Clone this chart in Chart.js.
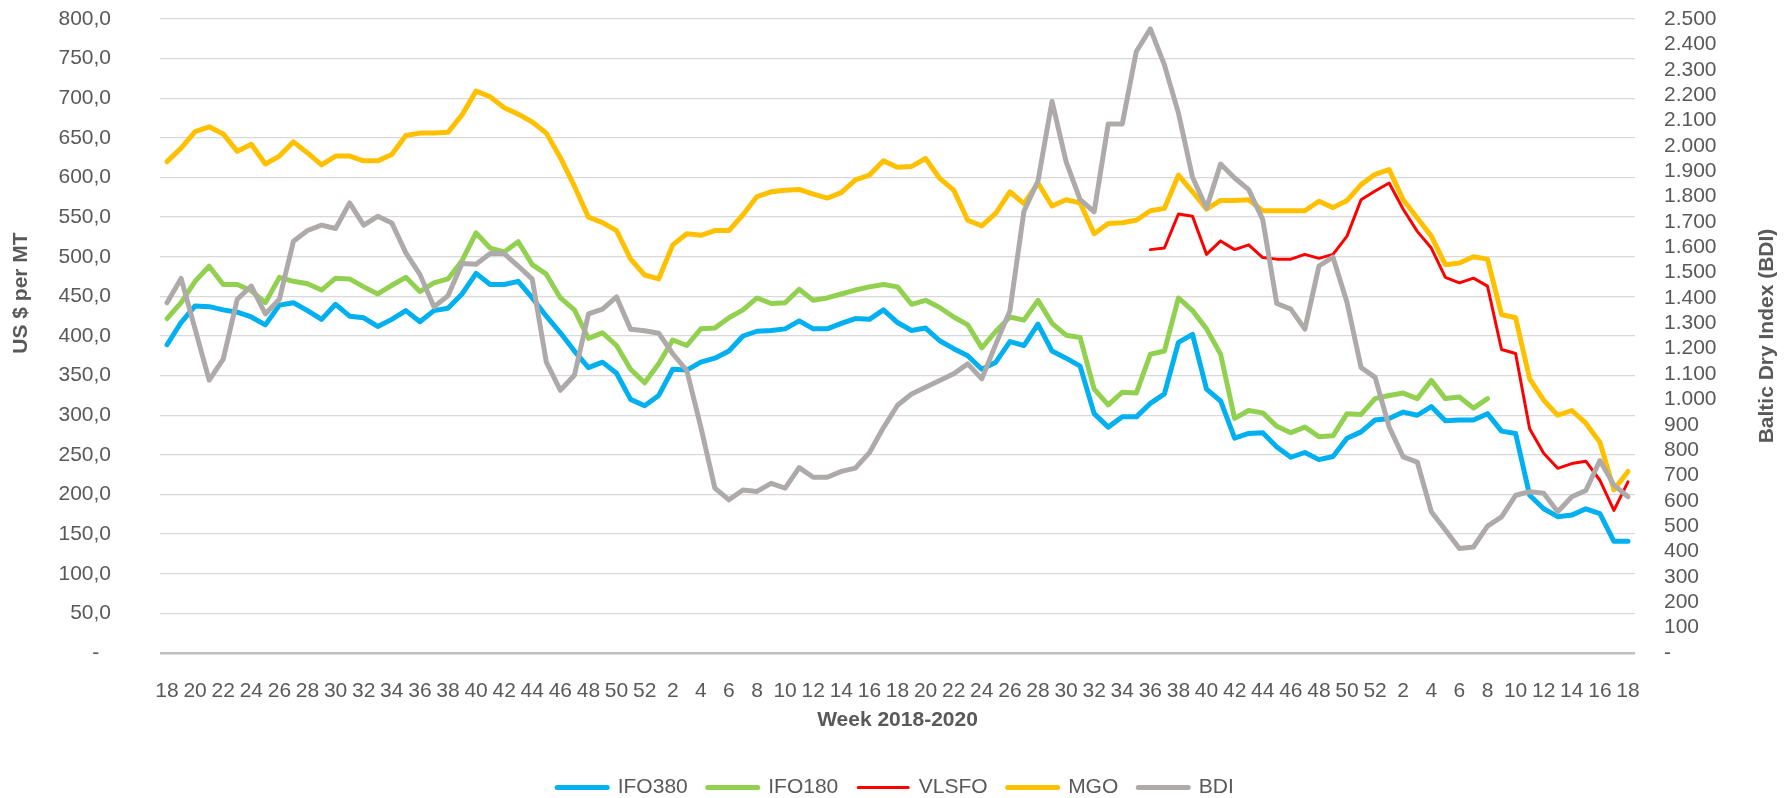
<!DOCTYPE html>
<html>
<head>
<meta charset="utf-8">
<title>Bunker prices vs BDI</title>
<script src="https://cdn.jsdelivr.net/npm/chart.js@4/dist/chart.umd.min.js"></script>
<style>
  html, body { margin: 0; padding: 0; background: #fff; }
  canvas { display: block; }
</style>
</head>
<body>
<canvas id="myChart" width="1791" height="798"></canvas>
<script>
'use strict';

// weeks 18/2018 .. 18/2020
var weeks = [18,19,20,21,22,23,24,25,26,27,28,29,30,31,32,33,34,35,36,37,38,39,40,41,42,43,44,45,46,47,48,49,50,51,52,
             1,2,3,4,5,6,7,8,9,10,11,12,13,14,15,16,17,18,19,20,21,22,23,24,25,26,27,28,29,30,31,32,33,34,35,36,37,38,39,40,41,42,43,44,45,46,47,48,49,50,51,52,
             1,2,3,4,5,6,7,8,9,10,11,12,13,14,15,16,17,18];

var ifo380 = [389,417,438,437,433,430,424,414,439,442,432,421,440,425,423,412,421,432,418,432,435,453,479,465,465,469,448,425,404,381,360,
              367,353,320,312,325,358,357,367,372,381,400,406,407,409,419,409,409,416,422,421,433,417,407,410,394,384,375,358,367,393,388,415,381,372,362,
              302,285,298,298,315,327,392,402,333,318,271,277,278,260,247,253,244,248,271,279,294,296,304,300,311,293,294,294,302,280,277,199,182,172,174,182,176,141,141];

var ifo180 = [422,442,469,488,465,465,457,442,474,469,466,458,473,472,462,453,464,474,456,467,472,495,530,511,506,519,490,478,448,433,397,
              404,388,358,341,365,395,388,409,410,423,433,448,441,442,459,445,448,453,458,462,465,462,440,445,436,424,414,385,406,424,420,445,416,401,398,
              333,313,329,328,377,381,448,432,409,377,296,306,303,286,278,285,273,274,302,301,321,325,328,321,344,321,323,309,321,
              null,null,null,null,null,null,null,null,null,null];

var vlsfo = [null,null,null,null,null,null,null,null,null,null,null,null,null,null,null,null,null,null,null,null,
             null,null,null,null,null,null,null,null,null,null,null,null,null,null,null,null,null,null,null,null,
             null,null,null,null,null,null,null,null,null,null,null,null,null,null,null,null,null,null,null,null,
             null,null,null,null,null,null,null,null,null,null,
             509,511,554,551,503,520,509,515,499,497,497,503,498,503,526,572,583,593,560,532,511,474,467,473,463,383,378,283,252,233,239,242,218,180,216];

var mgo = [620,637,658,664,655,633,642,617,627,645,631,616,627,627,621,621,629,653,656,656,657,679,709,702,688,680,670,656,625,589,550,
           543,533,497,477,472,515,529,527,533,533,553,576,582,584,585,579,574,581,597,603,621,613,614,624,599,584,546,539,555,582,567,593,564,572,568,
           529,542,543,546,558,561,603,582,560,571,571,572,558,558,558,558,570,562,571,591,604,610,572,549,526,490,492,500,497,427,423,346,319,300,306,290,266,206,229];

var bdi = [1381,1477,1277,1076,1159,1395,1447,1337,1395,1624,1666,1687,1674,1775,1687,1722,1696,1578,1493,1365,1409,1536,1533,1575,1575,1526,1474,1147,1036,1095,1337,
           1356,1404,1277,1271,1261,1180,1114,891,650,604,643,637,669,650,731,693,693,716,729,790,889,977,1021,1048,1075,1101,1140,1081,1218,1349,1742,1861,2175,1938,1788,
           1740,2086,2086,2372,2461,2319,2129,1876,1755,1928,1873,1827,1709,1378,1356,1277,1526,1561,1382,1126,1087,891,773,753,557,485,412,418,500,537,622,636,630,557,616,641,759,662,616];

var seriesNames = ['IFO380', 'IFO180', 'VLSFO', 'MGO', 'BDI'];
var seriesColors = ['#00B0F0', '#92D050', '#FF0000', '#FFC000', '#AEAAAA'];

(function () {

   var FONT = '"Liberation Sans", Arial, sans-serif';
   var TXT = '#595959';
   var NOTICK = 'rgba(0,0,0,0)';

   Chart.defaults.font.family = FONT;
   Chart.defaults.font.size = 21;
   Chart.defaults.color = TXT;

   // excel style number labels
   function leftLabel(v) {
      if (v === 0) return '-  ';
      return v.toFixed(1).replace('.', ',');
   }
   function rightLabel(v) {
      if (v === 0) return '-';
      if (v >= 1000) return Math.floor(v / 1000) + '.' + String(v % 1000).padStart(3, '0');
      return String(v);
   }

   function line(idx, data, width, axis, order) {
      return {
         label: seriesNames[idx],
         data: data,
         borderColor: seriesColors[idx],
         backgroundColor: seriesColors[idx],
         borderWidth: width,
         pointRadius: 0,
         tension: 0,
         borderJoinStyle: 'round',
         borderCapStyle: 'round',
         yAxisID: axis,
         order: order
      };
   }

   // rotated titles for both value axes (right one reads bottom-up like excel)
   var axisTitles = {
      id: 'axisTitles',
      afterDraw: function (chart) {
         var ctx = chart.ctx, area = chart.chartArea;
         var mid = (area.top + area.bottom) / 2;
         ctx.save();
         ctx.font = 'bold 21px ' + FONT;
         ctx.fillStyle = TXT;
         ctx.textAlign = 'center';
         ctx.textBaseline = 'middle';
         ctx.translate(21, mid - 43);
         ctx.rotate(-Math.PI / 2);
         ctx.fillText('US $ per MT', 0, 0);
         ctx.restore();
         ctx.save();
         ctx.font = 'bold 21px ' + FONT;
         ctx.fillStyle = TXT;
         ctx.textAlign = 'center';
         ctx.textBaseline = 'middle';
         ctx.translate(chart.width - 24, mid);
         ctx.rotate(-Math.PI / 2);
         ctx.fillText('Baltic Dry Index (BDI)', 0, 0);
         ctx.restore();
      }
   };

   var ctx = document.getElementById('myChart').getContext('2d');
   var myChart = new Chart(ctx, {
      type: 'line',
      data: {
         labels: weeks,
         datasets: [
            line(0, ifo380, 5, 'y', 4),
            line(1, ifo180, 5, 'y', 3),
            line(2, vlsfo, 3, 'y', 2),
            line(3, mgo, 5, 'y', 1),
            line(4, bdi, 5, 'y1', 0)
         ]
      },
      options: {
         responsive: false,
         animation: false,
         layout: { padding: { top: 19, bottom: -10, left: 0, right: 0 } },
         plugins: {
            tooltip: { enabled: false },
            legend: {
               position: 'bottom',
               labels: {
                  usePointStyle: true,
                  pointStyle: 'line',
                  pointStyleWidth: 50,
                  padding: 20,
                  color: TXT,
                  font: { size: 21 },
                  sort: function (a, b) { return a.datasetIndex - b.datasetIndex; },
                  generateLabels: function (chart) {
                     return chart.data.datasets.map(function (ds, i) {
                        return {
                           text: ds.label,
                           fillStyle: ds.borderColor,
                           strokeStyle: ds.borderColor,
                           lineWidth: ds.borderWidth,
                           lineCap: 'round',
                           pointStyle: 'line',
                           hidden: false,
                           fontColor: TXT,
                           datasetIndex: i
                        };
                     });
                  }
               }
            }
         },
         scales: {
            x: {
               offset: true,
               grid: { display: false },
               border: { display: false },
               ticks: {
                  autoSkip: false,
                  maxRotation: 0,
                  minRotation: 0,
                  padding: 18,
                  callback: function (v, i) { return i % 2 === 0 ? String(weeks[i]) : ''; }
               },
               title: {
                  display: true,
                  text: 'Week 2018-2020',
                  font: { size: 21, weight: 'bold' },
                  padding: { top: 0, bottom: 24 }
               },
               afterFit: function (scale) { scale.height = 104; }
            },
            y: {
               position: 'left',
               min: 0,
               max: 800,
               // gap between labels and plot comes from invisible tick marks,
               // tick padding would also push the plot area down
               grid: {
                  drawTicks: true,
                  tickLength: 49,
                  tickColor: NOTICK,
                  color: function (c) { return c.tick && c.tick.value === 0 ? '#BFBFBF' : '#D9D9D9'; },
                  lineWidth: function (c) { return c.tick && c.tick.value === 0 ? 2.5 : 1.3; }
               },
               border: { display: false },
               ticks: { stepSize: 50, autoSkip: false, padding: 0, callback: leftLabel },
               afterFit: function (scale) { scale.width = 160; }
            },
            y1: {
               position: 'right',
               min: 0,
               max: 2500,
               grid: { drawOnChartArea: false, drawTicks: true, tickLength: 29, tickColor: NOTICK },
               border: { display: false },
               ticks: { stepSize: 100, autoSkip: false, padding: 0, callback: rightLabel },
               afterFit: function (scale) { scale.width = 156; }
            }
         }
      },
      plugins: [axisTitles]
   });

})();
</script>
</body>
</html>
